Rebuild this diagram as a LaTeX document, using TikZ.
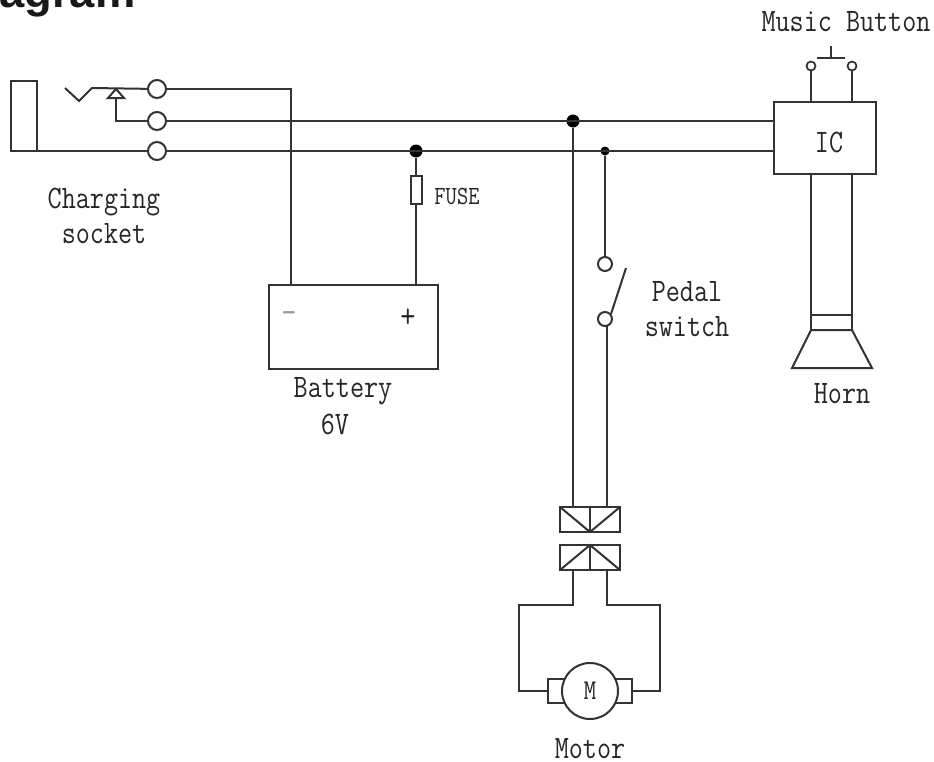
\documentclass[tikz,border=0pt]{standalone}
\usepackage{fontspec}
\newfontfamily\titlefont{Liberation Sans}
\usetikzlibrary{positioning, calc}
\def\px{0.75pt}
\tikzset{
	wire/.style={line width=1.5pt, black!80},
	box/.style={rectangle, draw=black!80, line width=1.5pt, fill=white, inner sep=0pt, outer sep=0pt},
	terminal/.style={circle, draw=black!80, line width=1.5pt, fill=white, inner sep=0pt, outer sep=0pt, minimum size=18*\px},
	contact/.style={circle, draw=black!80, line width=1.3pt, fill=white, inner sep=0pt, outer sep=0pt, minimum size=9*\px},
	junction/.style={circle, fill=black, inner sep=0pt, outer sep=0pt},
	label/.style={font=\fontsize{20.5}{21.9}\selectfont\ttfamily, black!85, align=center, inner sep=0pt, transform shape, yscale=1.2},
	small label/.style={label, font=\fontsize{16.4}{16.4}\selectfont\ttfamily},
}
\begin{document}
\begin{tikzpicture}[x=0.75pt, y=-0.75pt]
	\useasboundingbox (0,0) rectangle (934,761);

	%Title cut by the page
	\node(Title) at (-1,7) [anchor=base west, inner sep=0pt, font=\fontsize{34}{34}\selectfont\titlefont\bfseries, black!90]{agram};

	%Blocks
	\node(Socket) at (24,116) [box, minimum width=26*\px, minimum height=70*\px]{};
	\node(Battery) at (353.5,327) [box, minimum width=169*\px, minimum height=84*\px]{};
	\node(Fuse) at (416,190) [box, minimum width=11*\px, minimum height=28*\px]{};
	\node(IC) at (825,138) [box, minimum width=102*\px, minimum height=72*\px]{};
	\node(PlugTop) at (590,519.5) [box, minimum width=60*\px, minimum height=25*\px]{};
	\node(PlugBottom) at (590,557.5) [box, minimum width=60*\px, minimum height=25*\px]{};

	%Terminals
	\node(TermTop) at (157,89) [terminal]{};
	\node(TermMid) at (157,121) [terminal]{};
	\node(TermLow) at (157,151) [terminal]{};
	\node(PedalA) at (605,264) [terminal, minimum size=14*\px]{};
	\node(PedalB) at (605,319) [terminal, minimum size=14*\px]{};
	\node(ButtonA) at (811,66) [contact]{};
	\node(ButtonB) at (852,66) [contact]{};

	%Points on the blocks
	\coordinate (MinusPin) at (291,285);
	\coordinate (PlusPin) at (416,285);
	\coordinate (JackA) at (65,88);
	\coordinate (JackB) at (79,101);
	\coordinate (JackC) at (92,88);
	\coordinate (TipTop) at (116,89);
	\coordinate (TipLeft) at (108,98);
	\coordinate (TipRight) at (124,98);
	\coordinate (TipBase) at (116,98);
	\coordinate (BarLeft) at (817,58);
	\coordinate (BarRight) at (845,58);
	\coordinate (BarMid) at (831,58);
	\coordinate (BarTop) at (831,46);
	\coordinate (BladeLow) at (611,314);
	\coordinate (BladeTop) at (626,268);
	\coordinate (PinRight) at (607,507);

	%Junctions
	\node(DotFuse) at (416,151) [junction, minimum size=13*\px]{};
	\node(DotMotor) at (573,121) [junction, minimum size=13*\px]{};
	\node(DotPedal) at (605,151) [junction, minimum size=9*\px]{};

	%Socket wires
	\draw[wire] (Socket.south west) -- (TermLow);
	\draw[wire] (JackA) -- (JackB) -- (JackC) -- (TermTop);
	\draw[wire] (TipTop) -- (TipLeft) -- (TipRight) -- cycle;
	\draw[wire] (TipBase) |- (TermMid);

	%Main lines
	\draw[wire] (TermMid) -- (TermMid -| IC.west);
	\draw[wire] (TermLow) -- (TermLow -| IC.west);
	\draw[wire] (TermTop) -| (MinusPin);
	\draw[wire] (DotFuse) -- (Fuse);
	\draw[wire] (Fuse) -- (PlusPin);
	\draw[wire] (DotMotor) -- (DotMotor |- PlugTop.north);
	\draw[wire] (DotPedal) -- (PedalA);
	\draw[wire] (PedalB.south -| PinRight) -- (PinRight);
	\draw[wire] (BladeLow) -- (BladeTop);

	%Music button
	\draw[wire] (ButtonA) -- (ButtonA |- IC.north);
	\draw[wire] (ButtonB) -- (ButtonB |- IC.north);
	\draw[wire] (BarLeft) -- (BarRight);
	\draw[wire] (BarMid) -- (BarTop);

	%Horn
	\coordinate (HornA) at (811,330);
	\coordinate (HornB) at (852,330);
	\coordinate (RingA) at (811,315);
	\coordinate (RingB) at (852,315);
	\coordinate (MouthA) at (792,368);
	\coordinate (MouthB) at (872,368);
	\draw[wire] (HornA |- IC.south) -- (HornA);
	\draw[wire] (HornB |- IC.south) -- (HornB);
	\draw[wire] (RingA) -- (RingB);
	\draw[wire] (HornA) -- (HornB) -- (MouthB) -- (MouthA) -- cycle;

	%Plug contacts
	\draw[wire] (PlugTop.north) -- (PlugTop.south);
	\draw[wire] (PlugTop.north west) -- (PlugTop.south) -- (PlugTop.north east);
	\draw[wire] (PlugBottom.north) -- (PlugBottom.south);
	\draw[wire] (PlugBottom.south west) -- (PlugBottom.north) -- (PlugBottom.south east);

	%Motor
	\node(BrushLeft) at (557,691) [box, minimum width=18*\px, minimum height=24*\px]{};
	\node(BrushRight) at (623,691) [box, minimum width=18*\px, minimum height=24*\px]{};
	\node(Motor) at (590,691) [circle, draw=black!80, line width=1.5pt, fill=white, inner sep=0pt, outer sep=0pt, minimum size=56*\px]{};
	\coordinate (LoopLeftA) at (573,605);
	\coordinate (LoopLeftB) at (519,691);
	\coordinate (LoopRightA) at (607,605);
	\coordinate (LoopRightB) at (660,691);
	\draw[wire] (LoopLeftA |- PlugBottom.south) -- (LoopLeftA) -- (LoopLeftA -| LoopLeftB) -- (LoopLeftB) -- (BrushLeft.west);
	\draw[wire] (LoopRightA |- PlugBottom.south) -- (LoopRightA) -- (LoopRightA -| LoopRightB) -- (LoopRightB) -- (BrushRight.east);

	%Labels
	\node(MusicLabel) at (846,22) [label]{Music Button};
	\node(ChargingLabel) at (104,216) [label]{Charging\\socket};
	\node(FuseLabel) at (457,196) [small label]{FUSE};
	\node(PedalLabel) at (687,309) [label]{Pedal\\switch};
	\node(HornLabel) at (842,394) [label]{Horn};
	\node(BatteryLabel) at (343,391) [label]{Battery};
	\node(VoltLabel) at (335,424) [label]{6V};
	\node(MotorLabel) at (590,749) [label]{Motor};
	\node(ICLabel) at (829,142) [label]{IC};
	\node(MotorM) at (590,691) [small label, font=\fontsize{18}{18}\selectfont\ttfamily]{M};
	\node(MinusLabel) at (289,318) [small label, black!40, font=\fontsize{22}{22}\selectfont\ttfamily]{-};
	\node(PlusLabel) at (408,318) [small label, font=\fontsize{22}{22}\selectfont\ttfamily]{+};
\end{tikzpicture}
\end{document}
